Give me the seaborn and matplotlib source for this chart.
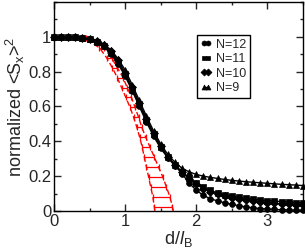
import matplotlib
matplotlib.use("Agg")
import matplotlib.pyplot as plt
from matplotlib.ticker import MultipleLocator, FormatStrFormatter
import seaborn as sns
import pandas as pd

sns.set_style("ticks")
plt.rcParams['font.family'] = ['Liberation Sans', 'DejaVu Sans']
plt.rcParams['mathtext.fontset'] = 'custom'
plt.rcParams['mathtext.rm'] = 'Liberation Sans'
plt.rcParams['mathtext.it'] = 'Liberation Sans:italic'

# d / l_B grid
d_vals = [0.0, 0.1, 0.2, 0.3, 0.4, 0.5, 0.6, 0.7, 0.8, 0.9, 1.0, 1.1, 1.2, 1.3, 1.4, 1.5, 1.6, 1.7,
          1.8, 1.9, 2.0, 2.1, 2.2, 2.3, 2.4, 2.5, 2.6, 2.7, 2.8, 2.9, 3.0, 3.1, 3.2, 3.3, 3.4, 3.5]

n12 = [1.0, 1.0, 1.0, 0.998, 0.995, 0.985, 0.97, 0.945, 0.9, 0.845, 0.775, 0.69, 0.6, 0.51, 0.43, 0.36,
       0.305, 0.26, 0.215, 0.16, 0.12, 0.09, 0.07, 0.058, 0.047, 0.038, 0.03, 0.023, 0.018, 0.014,
       0.011, 0.009, 0.007, 0.006, 0.005, 0.004]
n11 = [1.0, 1.0, 1.0, 0.998, 0.995, 0.986, 0.972, 0.95, 0.91, 0.855, 0.785, 0.70, 0.612, 0.522, 0.44,
       0.368, 0.31, 0.265, 0.225, 0.19, 0.16, 0.137, 0.118, 0.104, 0.094, 0.086, 0.079, 0.073, 0.068,
       0.064, 0.06, 0.057, 0.054, 0.051, 0.048, 0.046]
n10 = [1.0, 1.0, 1.0, 0.998, 0.995, 0.987, 0.975, 0.955, 0.918, 0.865, 0.795, 0.71, 0.62, 0.53, 0.447,
       0.372, 0.312, 0.265, 0.222, 0.185, 0.153, 0.128, 0.11, 0.096, 0.085, 0.076, 0.068, 0.062, 0.057,
       0.052, 0.048, 0.044, 0.041, 0.038, 0.035, 0.033]
n9 = [1.0, 1.0, 1.0, 0.999, 0.996, 0.988, 0.978, 0.96, 0.925, 0.875, 0.81, 0.725, 0.635, 0.545, 0.46,
      0.385, 0.325, 0.28, 0.245, 0.225, 0.21, 0.2, 0.193, 0.187, 0.181, 0.176, 0.172, 0.168, 0.165,
      0.162, 0.159, 0.156, 0.153, 0.151, 0.149, 0.146]

series_labels = ['N=12', 'N=11', 'N=10', 'N=9']

# red band (estimate): y levels with lower / upper d bound
red_y = [1.0, 0.994, 0.937, 0.88, 0.823, 0.766, 0.709, 0.652, 0.595, 0.538, 0.481, 0.424, 0.367,
         0.31, 0.253, 0.196, 0.139, 0.082, 0.025, 0.0]
red_lo = [0.0, 0.42, 0.64, 0.74, 0.82, 0.89, 0.95, 1.01, 1.07, 1.12, 1.165, 1.205, 1.24, 1.27,
          1.30, 1.33, 1.36, 1.39, 1.41, 1.42]
red_hi = [0.0, 0.45, 0.70, 0.81, 0.89, 0.97, 1.03, 1.09, 1.14, 1.19, 1.235, 1.29, 1.35, 1.41,
          1.47, 1.53, 1.58, 1.63, 1.665, 1.68]

rows = []
for lab, vals in zip(series_labels, [n12, n11, n10, n9]):
    for d, v in zip(d_vals, vals):
        rows.append({'d': d, 'S': v, 'N': lab})
df = pd.DataFrame(rows)

fig = plt.figure(figsize=(3.05, 2.5), dpi=100)
ax = fig.add_axes([0.177, 0.156, 0.816, 0.836])

# red estimate
ax.plot(red_lo, red_y, color='red', lw=1.0, dashes=(4, 2))
ax.plot(red_hi, red_y, color='red', lw=1.0, dashes=(4, 2))
mid = [(a + b) / 2 for a, b in zip(red_lo, red_hi)]
half = [(b - a) / 2 for a, b in zip(red_lo, red_hi)]
ax.errorbar(mid[1:-1], red_y[1:-1], xerr=half[1:-1], fmt='none', ecolor='red',
            elinewidth=0.9, capsize=2.5, capthick=0.9)

markers = {'N=12': 'o', 'N=11': 's', 'N=10': 'D', 'N=9': '^'}
sns.lineplot(data=df, x='d', y='S', hue='N', style='N', hue_order=series_labels,
             style_order=series_labels, palette=['black'] * 4, markers=markers,
             dashes=False, markersize=4.2, markeredgecolor='black', markeredgewidth=0.5,
             lw=1.0, ax=ax, legend=True, zorder=3)
for ln in ax.lines:
    ln.set_clip_on(False)

ax.set_xlim(0, 3.5)
ax.set_ylim(0, 1.2)
ax.xaxis.set_major_locator(MultipleLocator(1))
ax.xaxis.set_minor_locator(MultipleLocator(0.5))
ax.yaxis.set_minor_locator(MultipleLocator(0.1))
ax.set_yticks([0, 0.2, 0.4, 0.6, 0.8, 1.0])
ax.yaxis.set_major_formatter(FormatStrFormatter('%g'))
ax.tick_params(which='both', direction='in', top=True, right=True, labelsize=12, width=1, pad=2)
ax.tick_params(which='major', length=5)
ax.tick_params(which='minor', length=2.5)
for s in ax.spines.values():
    s.set_linewidth(1.0)
    s.set_color('black')

ax.set_xlabel(r'd/$\mathit{l}_\mathrm{B}$', fontsize=13, labelpad=0)
ax.set_ylabel(r'normalized <S$_\mathrm{x}$>$^2$', fontsize=13, labelpad=1)

handles, labels = ax.get_legend_handles_labels()
leg = ax.legend(handles, labels, loc='upper left', bbox_to_anchor=(0.574, 0.842),
                borderaxespad=0, numpoints=2, markerscale=0.85, fontsize=9, handlelength=0.9,
                handletextpad=0.3, labelspacing=0.2, borderpad=0.3, frameon=True,
                fancybox=False, edgecolor='black', framealpha=1)
leg.get_frame().set_linewidth(1.0)

fig.savefig('out.png', dpi=100)
